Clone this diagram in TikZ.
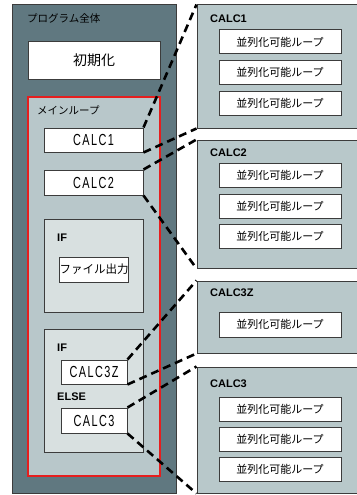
\documentclass[tikz,border=0pt]{standalone}
\usepackage{fontspec}
\setmainfont{Liberation Sans}
\newfontfamily\jp{Noto Sans CJK JP}
\newfontfamily\narrowf[FakeStretch=0.68,LetterSpace=9]{Liberation Sans}
\definecolor{outerfill}{RGB}{96,120,128}
\definecolor{mainfill}{RGB}{184,199,202}
\definecolor{iffill}{RGB}{216,224,224}
\definecolor{panelfill}{RGB}{184,200,202}
\definecolor{edge}{RGB}{60,60,60}
\definecolor{redline}{RGB}{230,30,30}
\tikzset{
  area/.style={draw=edge, line width=1pt, inner sep=0pt, anchor=center},
  whitebox/.style={draw=edge, line width=1pt, fill=white, inner sep=0pt, anchor=center},
  lbl/.style={anchor=west, inner sep=0pt},
  jpsmall/.style={font=\jp\fontsize{10.5}{12}\selectfont},
  boldlbl/.style={font=\bfseries\fontsize{11}{12}\selectfont},
  calcfont/.style={font=\narrowf\fontsize{16}{18}\selectfont},
  itemfont/.style={font=\jp\fontsize{11}{12}\selectfont},
  link/.style={draw=black, line width=2.6pt, dash pattern=on 8pt off 5pt},
}
\begin{document}
\begin{tikzpicture}[x=1pt,y=-1pt]
\useasboundingbox (0,0) rectangle (356,495);
% left structure
\node[area, fill=outerfill, minimum width=164pt, minimum height=488pt] (outer) at (94,249) {};
\node[lbl, jpsmall, text=black] (outerlbl) at (27,18) {プログラム全体};
\node[whitebox, minimum width=132pt, minimum height=37pt, font=\jp\fontsize{14}{16}\selectfont] (init) at (94,60.5) {初期化};
\node[draw=redline, line width=1.6pt, fill=mainfill, inner sep=0pt, minimum width=132pt, minimum height=379pt] (main) at (94,286.5) {};
\node[lbl, jpsmall] (mainlbl) at (37,110) {メインループ};
\node[whitebox, calcfont, minimum width=99pt, minimum height=24pt] (calc1) at (93.5,140) {CALC1};
\node[whitebox, calcfont, minimum width=99pt, minimum height=25pt] (calc2) at (93.5,182.5) {CALC2};
\node[area, fill=iffill, minimum width=99pt, minimum height=93pt] (if1) at (93.5,265.5) {};
\node[lbl, boldlbl] (if1lbl) at (57,238) {IF};
\node[whitebox, font=\jp\fontsize{11.5}{13}\selectfont, minimum width=66pt, minimum height=25pt] (file) at (94,269.5) {ファイル出力};
\node[area, fill=iffill, minimum width=99pt, minimum height=123pt] (if2) at (93.5,390.5) {};
\node[lbl, boldlbl] (if2lbl) at (57,348) {IF};
\node[whitebox, calcfont, minimum width=66pt, minimum height=24pt] (calc3z) at (94,372) {CALC3Z};
\node[lbl, boldlbl] (elselbl) at (57,397) {ELSE};
\node[whitebox, calcfont, minimum width=66pt, minimum height=25pt] (calc3) at (94,420.5) {CALC3};
% right panels
\node[area, fill=panelfill, minimum width=163pt, minimum height=123pt] (p1) at (278.5,66.5) {};
\node[lbl, boldlbl] (p1lbl) at (210,19) {CALC1};
\node[whitebox, itemfont, minimum width=122pt, minimum height=24pt] (p1a) at (280,42) {並列化可能ループ};
\node[whitebox, itemfont, minimum width=122pt, minimum height=24pt] (p1b) at (280,72.5) {並列化可能ループ};
\node[whitebox, itemfont, minimum width=122pt, minimum height=24pt] (p1c) at (280,103.5) {並列化可能ループ};
\node[area, fill=panelfill, minimum width=163pt, minimum height=128pt] (p2) at (278.5,204) {};
\node[lbl, boldlbl] (p2lbl) at (210,153) {CALC2};
\node[whitebox, itemfont, minimum width=122pt, minimum height=24pt] (p2a) at (280,175.5) {並列化可能ループ};
\node[whitebox, itemfont, minimum width=122pt, minimum height=24pt] (p2b) at (280,206) {並列化可能ループ};
\node[whitebox, itemfont, minimum width=122pt, minimum height=24pt] (p2c) at (280,236.5) {並列化可能ループ};
\node[area, fill=panelfill, minimum width=163pt, minimum height=72pt] (p3) at (278.5,317) {};
\node[lbl, boldlbl] (p3lbl) at (210,293) {CALC3Z};
\node[whitebox, itemfont, minimum width=122pt, minimum height=25pt] (p3a) at (280,324.5) {並列化可能ループ};
\node[area, fill=panelfill, minimum width=163pt, minimum height=126pt] (p4) at (278.5,430) {};
\node[lbl, boldlbl] (p4lbl) at (210,384) {CALC3};
\node[whitebox, itemfont, minimum width=122pt, minimum height=24pt] (p4a) at (280,409) {並列化可能ループ};
\node[whitebox, itemfont, minimum width=122pt, minimum height=24pt] (p4b) at (280,439) {並列化可能ループ};
\node[whitebox, itemfont, minimum width=122pt, minimum height=24pt] (p4c) at (280,469) {並列化可能ループ};
% links
\draw[link] (calc1.north east) -- (p1.north west);
\draw[link] (calc1.south east) -- (p1.south west);
\draw[link] (calc2.north east) -- (p2.north west);
\draw[link] (calc2.south east) -- (p2.south west);
\draw[link] (calc3z.north east) -- (p3.north west);
\draw[link] (calc3z.south east) -- (p3.south west);
\draw[link] (calc3.north east) -- (p4.north west);
\draw[link] (calc3.south east) -- (p4.south west);
\end{tikzpicture}
\end{document}
